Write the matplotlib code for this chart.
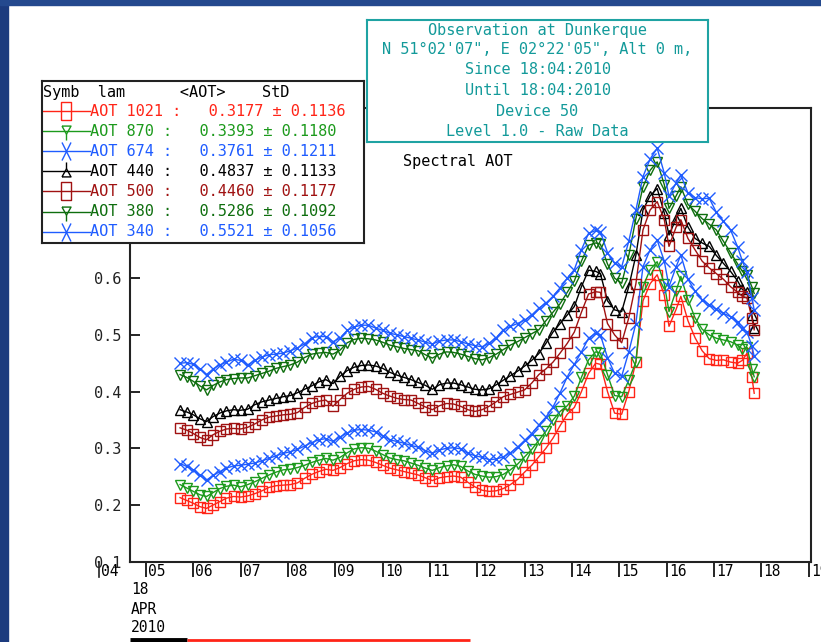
import matplotlib.pyplot as plt
from matplotlib.patches import Rectangle
from matplotlib.path import Path

plt.rcParams['font.family'] = 'DejaVu Sans Mono'

# Decimal hours (UTC) of the measurements, 18 April 2010
hours = [5.72, 5.86, 6.0, 6.14, 6.28, 6.42, 6.56, 6.7, 6.85, 7.0,
         7.15, 7.3, 7.45, 7.6, 7.75, 7.9, 8.05, 8.2, 8.35, 8.5,
         8.65, 8.8, 8.95, 9.1, 9.25, 9.4, 9.55, 9.7, 9.85, 10.0,
         10.15, 10.3, 10.45, 10.6, 10.75, 10.9, 11.05, 11.2, 11.35, 11.5,
         11.65, 11.8, 11.95, 12.1, 12.25, 12.4, 12.55, 12.7, 12.85, 13.0,
         13.15, 13.3, 13.45, 13.6, 13.75, 13.9, 14.05, 14.2, 14.35, 14.5,
         14.6, 14.75, 14.9, 15.05, 15.2, 15.35, 15.5, 15.65, 15.8, 15.95,
         16.05, 16.2, 16.3, 16.45, 16.6, 16.75, 16.9, 17.05, 17.2, 17.35,
         17.5, 17.6, 17.7, 17.8, 17.85]

aot_1021 = [0.213, 0.208, 0.203, 0.197, 0.194, 0.200, 0.206, 0.212, 0.215, 0.214,
            0.216, 0.220, 0.225, 0.231, 0.234, 0.235, 0.236, 0.239, 0.247, 0.254,
            0.259, 0.263, 0.261, 0.266, 0.273, 0.278, 0.280, 0.279, 0.275, 0.270,
            0.265, 0.262, 0.259, 0.256, 0.253, 0.248, 0.243, 0.248, 0.250, 0.251,
            0.249, 0.240, 0.232, 0.226, 0.224, 0.225, 0.229, 0.236, 0.245, 0.258,
            0.270, 0.285, 0.300, 0.318, 0.340, 0.360, 0.372, 0.400, 0.432, 0.450,
            0.448, 0.400, 0.362, 0.360, 0.400, 0.452, 0.560, 0.590, 0.606, 0.570,
            0.515, 0.545, 0.568, 0.525, 0.495, 0.472, 0.458, 0.455, 0.456, 0.452,
            0.450, 0.455, 0.468, 0.426, 0.397]

aot_870 = [0.236, 0.230, 0.224, 0.218, 0.215, 0.222, 0.229, 0.233, 0.235, 0.232,
           0.236, 0.241, 0.247, 0.253, 0.258, 0.262, 0.263, 0.266, 0.270, 0.275,
           0.279, 0.282, 0.279, 0.284, 0.292, 0.299, 0.301, 0.300, 0.295, 0.289,
           0.283, 0.280, 0.278, 0.274, 0.270, 0.265, 0.261, 0.266, 0.269, 0.271,
           0.268, 0.260, 0.254, 0.251, 0.249, 0.250, 0.254, 0.262, 0.272, 0.285,
           0.298, 0.314, 0.330, 0.350, 0.365, 0.375, 0.392, 0.425, 0.456, 0.470,
           0.468, 0.430, 0.393, 0.391, 0.420, 0.452, 0.585, 0.615, 0.629, 0.590,
           0.541, 0.578, 0.603, 0.562, 0.530, 0.510, 0.500, 0.494, 0.491, 0.488,
           0.482, 0.475, 0.478, 0.440, 0.426]

aot_674 = [0.273, 0.268, 0.262, 0.252, 0.244, 0.252, 0.259, 0.265, 0.269, 0.270,
           0.272, 0.274, 0.278, 0.282, 0.287, 0.291, 0.294, 0.298, 0.304, 0.310,
           0.315, 0.317, 0.312, 0.320, 0.327, 0.332, 0.333, 0.332, 0.329, 0.322,
           0.315, 0.312, 0.309, 0.305, 0.302, 0.296, 0.291, 0.297, 0.300, 0.301,
           0.299, 0.291, 0.287, 0.284, 0.280, 0.281, 0.285, 0.292, 0.302, 0.314,
           0.326, 0.341, 0.355, 0.373, 0.398, 0.426, 0.448, 0.470, 0.494, 0.503,
           0.500, 0.460, 0.432, 0.427, 0.470, 0.520, 0.620, 0.650, 0.667, 0.630,
           0.585, 0.620, 0.641, 0.598, 0.577, 0.562, 0.553, 0.545, 0.538, 0.532,
           0.522, 0.510, 0.505, 0.480, 0.462]

aot_440 = [0.368, 0.364, 0.359, 0.352, 0.347, 0.356, 0.362, 0.366, 0.368, 0.367,
           0.369, 0.377, 0.382, 0.385, 0.388, 0.391, 0.393, 0.398, 0.404, 0.410,
           0.417, 0.421, 0.414, 0.427, 0.437, 0.443, 0.446, 0.447, 0.445, 0.441,
           0.434, 0.429, 0.425, 0.421, 0.416, 0.411, 0.404, 0.412, 0.415, 0.415,
           0.412, 0.408, 0.404, 0.403, 0.405, 0.412, 0.420, 0.428, 0.436, 0.445,
           0.455, 0.467, 0.485, 0.505, 0.520, 0.535, 0.550, 0.585, 0.614, 0.612,
           0.608, 0.560, 0.544, 0.541, 0.585, 0.640, 0.720, 0.745, 0.758, 0.715,
           0.676, 0.705, 0.723, 0.690, 0.670, 0.662, 0.656, 0.640, 0.626, 0.612,
           0.595, 0.580, 0.575, 0.535, 0.512]

aot_500 = [0.336, 0.332, 0.326, 0.319, 0.315, 0.324, 0.330, 0.334, 0.335, 0.334,
           0.337, 0.343, 0.350, 0.355, 0.357, 0.359, 0.360, 0.363, 0.372, 0.379,
           0.383, 0.385, 0.374, 0.386, 0.397, 0.404, 0.408, 0.409, 0.404, 0.397,
           0.392, 0.388, 0.386, 0.385, 0.379, 0.373, 0.368, 0.375, 0.379, 0.378,
           0.374, 0.368, 0.365, 0.368, 0.374, 0.382, 0.391, 0.395, 0.399, 0.403,
           0.415, 0.430, 0.440, 0.452, 0.468, 0.485, 0.505, 0.540, 0.572, 0.576,
           0.575, 0.520, 0.500, 0.486, 0.530, 0.590, 0.685, 0.720, 0.735, 0.703,
           0.656, 0.690, 0.703, 0.670, 0.650, 0.630, 0.618, 0.608, 0.598, 0.585,
           0.575, 0.568, 0.565, 0.530, 0.509]

aot_380 = [0.430, 0.425, 0.418, 0.410, 0.403, 0.411, 0.417, 0.421, 0.423, 0.424,
           0.424, 0.428, 0.432, 0.436, 0.441, 0.444, 0.447, 0.452, 0.460, 0.466,
           0.468, 0.469, 0.466, 0.473, 0.486, 0.492, 0.494, 0.493, 0.491, 0.487,
           0.482, 0.479, 0.476, 0.474, 0.472, 0.465, 0.459, 0.466, 0.470, 0.469,
           0.466, 0.462, 0.458, 0.456, 0.460, 0.466, 0.474, 0.482, 0.488, 0.495,
           0.502, 0.509, 0.525, 0.540, 0.555, 0.575, 0.595, 0.630, 0.658, 0.662,
           0.660, 0.625, 0.600, 0.591, 0.640, 0.705, 0.761, 0.790, 0.805, 0.765,
           0.723, 0.745, 0.761, 0.730, 0.718, 0.705, 0.695, 0.685, 0.665, 0.645,
           0.625, 0.612, 0.605, 0.585, 0.573]

aot_340 = [0.450, 0.451, 0.448, 0.440, 0.430, 0.440, 0.447, 0.452, 0.457, 0.455,
           0.447, 0.455, 0.461, 0.465, 0.466, 0.468, 0.472, 0.477, 0.484, 0.495,
           0.497, 0.497, 0.488, 0.494, 0.508, 0.514, 0.517, 0.517, 0.512, 0.508,
           0.503, 0.500, 0.497, 0.494, 0.491, 0.487, 0.484, 0.489, 0.491, 0.491,
           0.488, 0.484, 0.481, 0.479, 0.485, 0.495, 0.509, 0.515, 0.520, 0.526,
           0.535, 0.547, 0.556, 0.568, 0.583, 0.600, 0.615, 0.650, 0.679, 0.684,
           0.682, 0.645, 0.626, 0.620, 0.665, 0.720, 0.779, 0.810, 0.829, 0.785,
           0.744, 0.768, 0.782, 0.750, 0.742, 0.740, 0.741, 0.716, 0.700, 0.685,
           0.655, 0.630, 0.610, 0.565, 0.544]

wavelengths = ['1021', '870', '674', '440', '500', '380', '340']
mean_aot = ['0.3177', '0.3393', '0.3761', '0.4837', '0.4460', '0.5286', '0.5521']
std_aot = ['0.1136', '0.1180', '0.1211', '0.1133', '0.1177', '0.1092', '0.1056']
series = [aot_1021, aot_870, aot_674, aot_440, aot_500, aot_380, aot_340]
colors = ['#ff2417', '#1c9a1c', '#1f5cff', '#000000', '#a01212', '#0e6e0e', '#1f5cff']
markers = ['s', 'v', 'x', '^', 's', 'v', 'x']

info_lines = ['Observation at Dunkerque',
              'N 51°02\'07", E 02°22\'05", Alt 0 m,',
              'Since 18:04:2010',
              'Until 18:04:2010',
              'Device 50',
              'Level 1.0 - Raw Data']

W, H = 821, 642
FS = 11


def box(x0, y0, x1, y1):
    # pixel box (top-left origin) -> figure fraction rect
    return [x0 / W, 1 - y1 / H, (x1 - x0) / W, (y1 - y0) / H]


fig = plt.figure(figsize=(W / 100, H / 100), dpi=100)
fig.patch.set_facecolor('white')
fig.patches.append(Rectangle((0, 0), 8 / W, 1, transform=fig.transFigure,
                             color='#1c3b7e', zorder=0))
fig.patches.append(Rectangle((0, 1 - 5 / H), 1, 5 / H, transform=fig.transFigure,
                             color='#24498e', zorder=0))

ax = fig.add_axes(box(130, 108, 811, 561.7))
ax.set_xlim(4.662, 19.05)
ax.set_ylim(0.1, 0.9)
for s in ax.spines.values():
    s.set_linewidth(1.5)
    s.set_color('#222222')

sizes = {'s': 6.5, 'v': 7, 'x': 8, '^': 6.5}
for vals, c, m in zip(series, colors, markers):
    ax.plot(hours, vals, color=c, lw=1.0, marker=m, ms=sizes[m],
            mfc='none', mec=c, mew=1.0)

# upper ticks sit under the legend table, so only label the visible ones
yt = [0.1, 0.2, 0.3, 0.4, 0.5, 0.6]
ax.set_yticks(yt)
ax.set_yticklabels([f'{v:.1f}' for v in yt])
ax.tick_params(axis='y', direction='in', length=7, width=1.2, pad=6,
               labelsize=FS, labelcolor='#222222', right=False)

ax.set_xticks(range(5, 20))
ax.set_xticklabels([])
ax.tick_params(axis='x', direction='out', length=11, width=1.2, top=False)
xt = ax.get_xaxis_transform()
ax.plot([4, 4], [0, -15 / 453.7], transform=xt, color='#222222', lw=1.2,
        clip_on=False)
for h in range(4, 20):
    ax.annotate(f'{h:02d}', xy=(h, 0), xycoords=xt, xytext=(1.5, -1.5),
                textcoords='offset points', ha='left', va='top',
                fontsize=10.5, annotation_clip=False)

# day stamp under the time axis
for txt, yc in zip(['18', 'APR', '2010'], [590, 609, 627]):
    fig.text(131 / W, 1 - yc / H, txt, ha='left', va='center', fontsize=10.5)

# time coverage strip under the axis
ax.plot([4.662, 5.87], [-0.1726, -0.1726], transform=xt, color='black', lw=3.5,
        clip_on=False, solid_capstyle='butt')
ax.plot([5.87, 11.85], [-0.1726, -0.1726], transform=xt, color='#ff2417', lw=2,
        clip_on=False, solid_capstyle='butt')

fig.text(403 / W, 1 - 162 / H, 'Spectral AOT', ha='left', va='center',
         fontsize=FS, color='black')

# legend table
lg = fig.add_axes(box(42, 81, 364, 243))
lg.set_xlim(42, 364)
lg.set_ylim(243, 81)
lg.set_xticks([])
lg.set_yticks([])
for s in lg.spines.values():
    s.set_linewidth(1.5)
    s.set_color('#222222')
lg.text(43, 92, 'Symb  lam      <AOT>    StD', ha='left', va='center', fontsize=FS)

tall = {
    's': Path([(-0.5, -1), (0.5, -1), (0.5, 1), (-0.5, 1), (-0.5, -1)]),
    'v': Path([(-0.5, 0.6), (0.5, 0.6), (0, -0.3), (-0.5, 0.6), (0, -0.3), (0, -1)],
              [Path.MOVETO, Path.LINETO, Path.LINETO, Path.LINETO, Path.MOVETO, Path.LINETO]),
    '^': Path([(-0.5, -0.6), (0.5, -0.6), (0, 0.3), (-0.5, -0.6), (0, 0.3), (0, 1)],
              [Path.MOVETO, Path.LINETO, Path.LINETO, Path.LINETO, Path.MOVETO, Path.LINETO]),
    'x': Path([(-0.5, -1), (0.5, 1), (-0.5, 1), (0.5, -1)],
              [Path.MOVETO, Path.LINETO, Path.MOVETO, Path.LINETO]),
}
for i, (lam, mu, sd, c, m) in enumerate(zip(wavelengths, mean_aot, std_aot,
                                             colors, markers)):
    y = 111 + 20.1 * i
    lg.plot([42, 90], [y, y], color=c, lw=1.0)
    lg.plot([66], [y], marker=tall[m], ms=13, mfc='none', mec=c, mew=1.0,
            clip_on=False)
    lg.text(90, y, f'AOT {lam} :   {mu} ± {sd}', ha='left', va='center',
            fontsize=FS, color=c)

# station info box
ib = fig.add_axes(box(367, 20, 708, 142))
ib.set_xlim(367, 708)
ib.set_ylim(142, 20)
ib.set_xticks([])
ib.set_yticks([])
for s in ib.spines.values():
    s.set_linewidth(1.5)
    s.set_color('#1fa3a3')
for txt, yc in zip(info_lines, [30, 49.5, 70, 90.5, 111, 131]):
    ib.text(537.5, yc, txt, ha='center', va='center', fontsize=FS,
            color='#139a9a')

fig.savefig('out.png', dpi=100)
